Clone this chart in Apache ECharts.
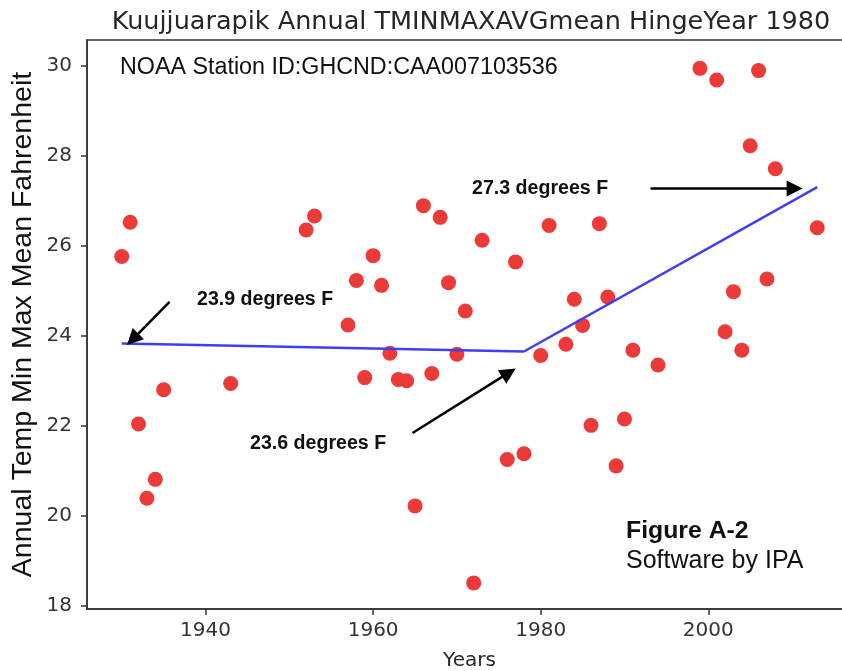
<!DOCTYPE html>
<html>
<head>
<meta charset="utf-8">
<script src="https://cdn.jsdelivr.net/npm/echarts@6/dist/echarts.min.js"></script>
<style>
  html, body { margin: 0; padding: 0; background: #fff; }
  #chart { width: 842px; height: 671px; }
</style>
</head>
<body>
<div id="chart"></div>
<script>
// annual mean temperature
const years = [1930, 1931, 1932, 1933, 1934, 1935, 1943, 1952, 1953, 1957, 1958, 1959, 1960, 1961, 1962, 1963, 1964, 1965, 1966, 1967, 1968, 1969, 1970, 1971, 1972, 1973, 1976, 1977, 1978, 1980, 1981, 1983, 1984, 1985, 1986, 1987, 1988, 1989, 1990, 1991, 1994, 1999, 2001, 2002, 2003, 2004, 2005, 2006, 2007, 2008, 2013];
const temps = [25.76, 26.52, 22.04, 20.39, 20.81, 22.80, 22.94, 26.35, 26.66, 24.24, 25.23, 23.07, 25.78, 25.12, 23.61, 23.03, 23.00, 20.22, 26.89, 23.16, 26.63, 25.18, 23.59, 24.55, 18.51, 26.12, 21.25, 25.64, 21.38, 23.56, 26.45, 23.81, 24.81, 24.23, 22.01, 26.49, 24.86, 21.11, 22.15, 23.68, 23.35, 29.94, 29.68, 24.09, 24.98, 23.68, 28.22, 29.89, 25.26, 27.71, 26.40];

// hinge fit
const hingeYears = [1930, 1978, 2013];
const hingeTemps = [23.83, 23.65, 27.30];

// annotation arrows (tail -> head, data coords)
const arrowFrom = [[1935.7, 24.75], [1964.7, 21.84], [1993.1, 27.27]];
const arrowTo = [[1931.3, 23.92], [1976.2, 23.18], [2010.3, 27.27]];

const xTicks = [1940, 1960, 1980, 2000];
const yTicks = [18, 20, 22, 24, 26, 28, 30];

const chart = echarts.init(document.getElementById("chart"));

const axisColor = "#333";
const sans = "'Liberation Sans', Arial, Helvetica, sans-serif";

let option = {
  animation: false,
  title: {
    text: "Kuujjuarapik Annual TMINMAXAVGmean HingeYear 1980",
    left: 466,
    top: 4,
    textAlign: "center",
    textStyle: {
      fontFamily: "DejaVu Sans",
      fontSize: 25.5,
      fontWeight: "normal",
      color: "#262626",
    },
  },
  grid: {
    left: 87,
    top: 40,
    right: -10,
    bottom: 62,
    show: true,
    borderColor: axisColor,
    borderWidth: 1.5,
    outerBoundsMode: "none",
  },
  xAxis: {
    type: "value",
    min: 1925.85,
    max: 2017.15,
    name: "Years",
    nameLocation: "middle",
    nameGap: 42,
    nameMoveOverlap: false,
    nameTextStyle: { fontFamily: "DejaVu Sans", fontSize: 20, color: "#262626" },
    axisLine: { show: true, lineStyle: { color: axisColor, width: 1.5 } },
    axisTick: { show: true, customValues: xTicks, length: 6, lineStyle: { color: axisColor, width: 1.5 } },
    axisLabel: {
      customValues: xTicks,
      formatter: (v) => String(v),
      fontFamily: "DejaVu Sans",
      fontSize: 20,
      color: "#333",
      margin: 12,
    },
    splitLine: { show: false },
  },
  yAxis: {
    type: "value",
    min: 17.93,
    max: 30.57,
    name: "Annual Temp Min Max Mean Fahrenheit",
    nameLocation: "middle",
    nameRotate: 90,
    nameGap: 49,
    nameMoveOverlap: false,
    nameTextStyle: { fontFamily: sans, fontSize: 28.5, color: "#111" },
    axisLine: { show: true, lineStyle: { color: axisColor, width: 1.5 } },
    axisTick: { show: true, customValues: yTicks, length: 6, lineStyle: { color: axisColor, width: 1.5 } },
    axisLabel: {
      customValues: yTicks,
      formatter: (v) => String(v),
      fontFamily: "DejaVu Sans",
      fontSize: 20,
      color: "#333",
      margin: 15,
    },
    splitLine: { show: false },
  },
  series: [
    {
      name: "TMINMAXAVG",
      type: "scatter",
      symbolSize: 15,
      itemStyle: { color: "#eb3a37", opacity: 1 },
      data: years.map((y, i) => [y, temps[i]]),
      z: 2,
    },
    {
      name: "Hinge",
      type: "line",
      symbol: "none",
      lineStyle: { color: "#3f3ff2", width: 2.5 },
      data: hingeYears.map((y, i) => [y, hingeTemps[i]]),
      z: 3,
      markLine: {
        silent: true,
        symbol: ["none", "triangle"],
        symbolSize: 16,
        label: { show: false },
        lineStyle: { color: "#000", width: 2.5, type: "solid" },
        data: arrowFrom.map((p, i) => [{ coord: p }, { coord: arrowTo[i] }]),
      },
    },
  ],
  graphic: [
    { type: "text", x: 120, y: 68, style: { text: "NOAA Station ID:GHCND:CAA007103536", font: "23.3px " + sans, fill: "#111", verticalAlign: "middle" } },
    { type: "text", x: 197, y: 300, style: { text: "23.9 degrees F", font: "bold 19.6px " + sans, fill: "#111", verticalAlign: "middle" } },
    { type: "text", x: 250, y: 444, style: { text: "23.6 degrees F", font: "bold 19.6px " + sans, fill: "#111", verticalAlign: "middle" } },
    { type: "text", x: 472, y: 189, style: { text: "27.3 degrees F", font: "bold 19.6px " + sans, fill: "#111", verticalAlign: "middle" } },
    { type: "text", x: 626, y: 531, style: { text: "Figure A-2", font: "bold 24.8px " + sans, fill: "#111", verticalAlign: "middle" } },
    { type: "text", x: 626, y: 561, style: { text: "Software by IPA", font: "25px " + sans, fill: "#111", verticalAlign: "middle" } },
  ],
};

chart.setOption(option);
</script>
</body>
</html>
